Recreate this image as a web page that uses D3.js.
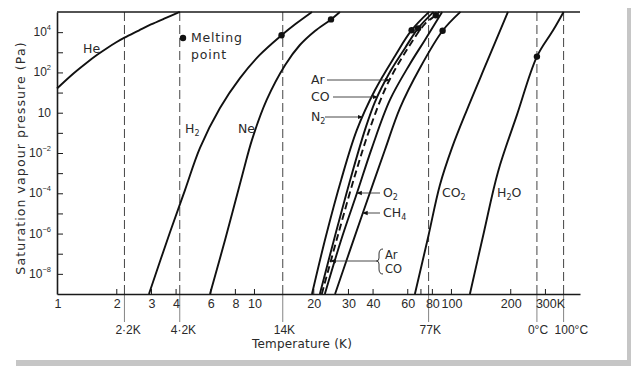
<!DOCTYPE html>
<html>
<head>
<meta charset="utf-8">
<script src="https://d3js.org/d3.v7.min.js"></script>
<style>
  body { margin: 0; background: #fff; }
  text { font-family: "DejaVu Sans", Arial, sans-serif; fill: #2a2a2a; }
  .num { font-family: "Liberation Sans", Arial, sans-serif; }
  .axis path, .axis line { stroke: #1a1a1a; }
</style>
</head>
<body>
<script>
// ---- data: temperature (K) and saturation vapour pressure (Pa) ----
var heT  = [1.0, 1.2, 1.4, 1.6, 1.8, 2.0, 2.2, 2.6, 3.0, 3.5, 4.2];
var heP  = [16, 82, 280, 750, 1640, 3130, 5300, 12000, 24000, 47000, 101000];
var h2T  = [2.93, 3.75, 4.46, 5.32, 6.72, 8.49, 10.7, 13.8, 16.3, 19.7];
var h2P  = [1e-9, 1.2e-6, 1.4e-4, 0.018, 1.7, 52, 740, 7000, 26000, 101000];
var neT  = [5.98, 7.13, 8.80, 9.77, 11.6, 14.4, 17.1, 20.4, 24.6, 27.3];
var neP  = [1e-9, 4.8e-7, 1.1e-3, 0.045, 4.3, 234, 2300, 11500, 43000, 101000];
var n2T  = [19.7, 23.2, 27.7, 33.3, 41.1, 52.0, 63.15, 77.4];
var n2P  = [1e-9, 7.6e-7, 4.6e-4, 0.14, 13, 660, 12500, 101000];
var coT  = [21.6, 26.1, 31.1, 36.6, 41.1, 49.0, 58.4, 68.1, 81.6];
var coP  = [1e-9, 1.2e-6, 6.5e-4, 0.14, 3.4, 105, 1600, 15400, 101000];
var arT  = [22.1, 26.7, 32.6, 38.8, 47.9, 61.9, 73.8, 83.8, 87.3];
var arP  = [1e-9, 8.5e-7, 8.1e-4, 0.17, 30, 2300, 26000, 69000, 101000];
var o2T  = [22.9, 27.7, 33.3, 39.7, 49.0, 61.9, 73.8, 90.2];
var o2P  = [1e-9, 4.8e-7, 1.0e-4, 0.018, 4.3, 263, 4100, 101000];
var ch4T = [25.8, 30.4, 35.7, 46.2, 55.1, 69.6, 90.7, 111.7];
var ch4P = [1e-9, 1.1e-7, 1.05e-5, 0.014, 1.7, 166, 11700, 101000];
var co2T = [65.6, 76.4, 87.9, 101.2, 120.6, 152.3, 194.7];
var co2P = [1e-9, 6e-7, 2.6e-4, 0.018, 1.4, 330, 101000];
var h2oT = [124.8, 147.1, 173.3, 216.3, 273.16, 329.5, 373.15];
var h2oP = [1e-9, 1.2e-6, 1.15e-3, 0.78, 611, 12000, 101000];

// melting (triple) points
var meltGas = ["H2", "Ne", "N2", "CO", "Ar", "CH4", "H2O"];
var meltT   = [13.8, 24.6, 63.15, 68.1, 83.8, 90.7, 273.16];
var meltP   = [7000, 43000, 12500, 15400, 69000, 11700, 611];

// reference temperatures marked by dashed lines
var refT     = [2.2, 4.2, 14, 77, 273.15, 373.15];
var refLabel = ["2·2K", "4·2K", "14K", "77K", "0°C", "100°C"];

// axis ticks
var xTickValues = [1, 2, 3, 4, 6, 8, 10, 20, 30, 40, 60, 70, 80, 100, 200, 300];
var xTickLabels = ["1", "2", "3", "4", "6", "8", "10", "20", "30", "40", "60", "", "80", "100", "200", "300K"];
var yTickExp    = [-8, -7, -6, -5, -4, -3, -2, -1, 0, 1, 2, 3, 4];
var yLabelExp   = [4, 2, 0, -2, -4, -6, -8];
var yLabelSup   = ["4", "2", "", "\u22122", "\u22124", "\u22126", "\u22128"];

// ---- drawing ----
var W = 631, H = 366;
var svg = d3.select("body").append("svg").attr("width", W).attr("height", H);

// paper shadow
svg.append("rect").attr("x", 16).attr("y", 360).attr("width", 615).attr("height", 6).attr("fill", "#c6c6c6");
svg.append("rect").attr("x", 627).attr("y", 8).attr("width", 4).attr("height", 358).attr("fill", "#c6c6c6");

var x = d3.scaleLog().domain([1, 452]).range([57, 580]);
var y = d3.scaleLog().domain([1e-9, 1e5]).range([294, 12]);

// dashed reference lines, continued below the axis to their labels
refT.forEach(function (t, i) {
  svg.append("line")
    .attr("x1", x(t)).attr("x2", x(t)).attr("y1", y.range()[1]).attr("y2", y.range()[0])
    .attr("stroke", "#444").attr("stroke-width", 1).attr("stroke-dasharray", "9,4");
  svg.append("line")
    .attr("x1", x(t)).attr("x2", x(t)).attr("y1", y.range()[0]).attr("y2", 322)
    .attr("stroke", "#777").attr("stroke-width", 0.9);
  svg.append("text")
    .attr("class", "num")
    .attr("x", x(t) - 9).attr("y", 334)
    .attr("font-size", 12)
    .text(refLabel[i]);
});

// axes, ticks pointing into the plot
var xAxis = d3.axisBottom(x).tickValues(xTickValues).tickSizeInner(-5).tickSizeOuter(0).tickFormat("");
svg.append("g").attr("class", "axis").attr("transform", "translate(0," + y.range()[0] + ")")
  .call(xAxis)
  .call(function (g) { g.select(".domain").attr("stroke-width", 1.6); });

var yAxis = d3.axisLeft(y).tickValues(yTickExp.map(function (e) { return Math.pow(10, e); }))
  .tickSizeInner(-6).tickSizeOuter(0).tickFormat("");
svg.append("g").attr("class", "axis").attr("transform", "translate(" + x.range()[0] + ",0)")
  .call(yAxis)
  .call(function (g) { g.select(".domain").attr("stroke-width", 1.6); });

// top frame line
svg.append("line")
  .attr("x1", x.range()[0]).attr("x2", x.range()[1]).attr("y1", y.range()[1]).attr("y2", y.range()[1])
  .attr("stroke", "#1a1a1a").attr("stroke-width", 1.6);

// x tick labels
svg.selectAll(".xlab").data(xTickValues).enter().append("text")
  .attr("class", "xlab num")
  .attr("x", function (d, i) { return xTickLabels[i] === "300K" ? x(d) - 9 : x(d) + 1; })
  .attr("y", 308)
  .attr("text-anchor", function (d, i) { return xTickLabels[i] === "300K" ? "start" : "middle"; })
  .attr("font-size", 12.5)
  .text(function (d, i) { return xTickLabels[i]; });

// y tick labels with superscripts
yLabelExp.forEach(function (e, i) {
  var t = svg.append("text")
    .attr("class", "num")
    .attr("x", 51).attr("y", y(Math.pow(10, e)) + 4)
    .attr("text-anchor", "end").attr("font-size", 12);
  t.append("tspan").text("10");
  if (yLabelSup[i]) {
    t.append("tspan").attr("dy", -6).attr("font-size", 7.5).text(yLabelSup[i]);
  }
});

// axis titles
svg.append("text")
  .attr("x", 302).attr("y", 348).attr("text-anchor", "middle")
  .attr("font-size", 12).attr("letter-spacing", 0.2)
  .text("Temperature (K)");
svg.append("text")
  .attr("transform", "translate(25,158) rotate(-90)")
  .attr("text-anchor", "middle").attr("font-size", 12.5).attr("letter-spacing", 1.1)
  .text("Saturation vapour pressure (Pa)");

// curves
var series = [
  { name: "He",  T: heT,  P: heP },
  { name: "H2",  T: h2T,  P: h2P },
  { name: "Ne",  T: neT,  P: neP },
  { name: "N2",  T: n2T,  P: n2P },
  { name: "CO",  T: coT,  P: coP },
  { name: "Ar",  T: arT,  P: arP, dash: "7,4" },
  { name: "O2",  T: o2T,  P: o2P },
  { name: "CH4", T: ch4T, P: ch4P },
  { name: "CO2", T: co2T, P: co2P },
  { name: "H2O", T: h2oT, P: h2oP }
];
series.forEach(function (s) {
  s.pts = s.T.map(function (t, i) { return [x(t), y(s.P[i])]; });
});

var line = d3.line().curve(d3.curveCatmullRom.alpha(0.5));
svg.selectAll(".curve").data(series).enter().append("path")
  .attr("class", "curve")
  .attr("d", function (s) { return line(s.pts); })
  .attr("fill", "none")
  .attr("stroke", "#111")
  .attr("stroke-width", 1.9)
  .attr("stroke-dasharray", function (s) { return s.dash || null; });

// melting points
svg.selectAll(".melt").data(meltGas).enter().append("circle")
  .attr("class", "melt")
  .attr("cx", function (d, i) { return x(meltT[i]); })
  .attr("cy", function (d, i) { return y(meltP[i]); })
  .attr("r", 3.2).attr("fill", "#111");

// legend
svg.append("circle").attr("cx", 183).attr("cy", 38).attr("r", 3.2).attr("fill", "#111");
svg.append("text").attr("x", 191).attr("y", 42).attr("font-size", 12.5).attr("letter-spacing", 0.8).text("Melting");
svg.append("text").attr("x", 191).attr("y", 59).attr("font-size", 12.5).attr("letter-spacing", 0.8).text("point");

// helper: x of a curve at a pixel height
function xAtY(name, py) {
  var p = series.find(function (s) { return s.name === name; }).pts;
  for (var i = 0; i < p.length - 1; i++) {
    if ((p[i][1] - py) * (p[i + 1][1] - py) <= 0) {
      var f = (py - p[i][1]) / (p[i + 1][1] - p[i][1]);
      return p[i][0] + f * (p[i + 1][0] - p[i][0]);
    }
  }
  return p[0][0];
}

function chem(g, px, py, parts, size) {
  var t = g.append("text").attr("x", px).attr("y", py).attr("font-size", size || 12.5);
  parts.forEach(function (p) {
    if (p.sub) {
      t.append("tspan").attr("dy", 3).attr("font-size", 8).text(p.s);
    } else {
      t.append("tspan").attr("dy", p.back ? -3 : 0).text(p.s);
    }
  });
  return t;
}

// curve labels placed directly on the plot
chem(svg, 83, 53, [{ s: "He" }]);
chem(svg, 185, 133, [{ s: "H" }, { s: "2", sub: 1 }]);
chem(svg, 238, 133, [{ s: "Ne" }]);
chem(svg, 442, 197, [{ s: "CO" }, { s: "2", sub: 1 }]);
chem(svg, 497, 197, [{ s: "H" }, { s: "2", sub: 1 }, { s: "O", back: 1 }]);

// labels with pointer lines
var pointers = [
  { name: "Ar",  py: 80,  tx: 311, from: 327, parts: [{ s: "Ar" }] },
  { name: "CO",  py: 97,  tx: 311, from: 333, parts: [{ s: "CO" }] },
  { name: "N2",  py: 117, tx: 311, from: 325, parts: [{ s: "N" }, { s: "2", sub: 1 }] },
  { name: "O2",  py: 193, tx: 383, from: 380, parts: [{ s: "O" }, { s: "2", sub: 1 }] },
  { name: "CH4", py: 213, tx: 383, from: 380, parts: [{ s: "CH" }, { s: "4", sub: 1 }] },
  { name: "Ar",  py: 261, tx: null, from: 377, parts: null }
];
svg.append("defs").append("marker")
  .attr("id", "ah").attr("viewBox", "0 0 10 10").attr("refX", 9).attr("refY", 5)
  .attr("markerWidth", 6).attr("markerHeight", 6).attr("orient", "auto")
  .append("path").attr("d", "M0,1L10,5L0,9Z").attr("fill", "#111");

pointers.forEach(function (p) {
  var tip = xAtY(p.name, p.py);
  svg.append("line")
    .attr("x1", p.from).attr("y1", p.py).attr("x2", tip).attr("y2", p.py)
    .attr("stroke", "#333").attr("stroke-width", 0.9)
    .attr("marker-end", "url(#ah)");
  if (p.parts) chem(svg, p.tx, p.py + 4, p.parts);
});

// {Ar, CO} bracket label
svg.append("path")
  .attr("d", "M383,249 Q379,249 379,254 L379,258 Q379,261 376.5,261 Q379,261 379,264 L379,269 Q379,274 383,274")
  .attr("fill", "none").attr("stroke", "#333").attr("stroke-width", 1);
chem(svg, 385, 259, [{ s: "Ar" }], 11.5);
chem(svg, 385, 273, [{ s: "CO" }], 11.5);
</script>
</body>
</html>
